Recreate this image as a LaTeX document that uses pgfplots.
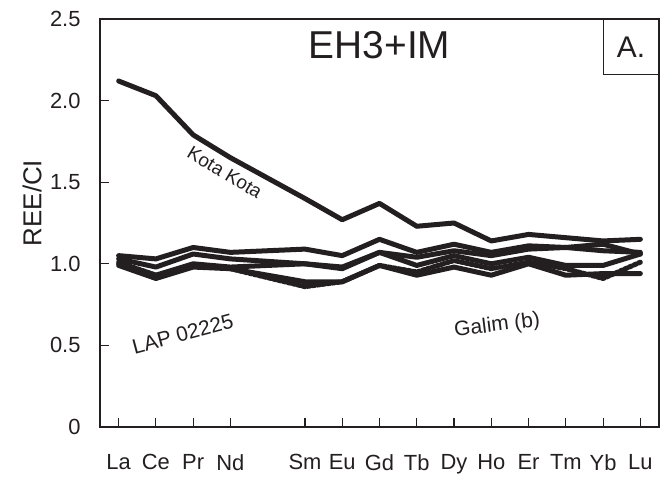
\documentclass[border=0pt]{standalone}
\usepackage{pgfplots}
\pgfplotsset{compat=1.18}
\usepackage{fontspec}
\setmainfont{Liberation Sans}
\definecolor{ink}{HTML}{231F20}

\begin{document}
\begin{tikzpicture}
  \begin{axis}[
    scale only axis,
    width=559bp, height=408bp,
    xmin=-0.5, xmax=14.5,
    ymin=0, ymax=2.5,
    xtick={0,1,2,3,5,6,7,8,9,10,11,12,13,14},
    xticklabels={La,Ce,Pr,Nd,Sm,Eu,Gd,Tb,Dy,Ho,Er,Tm,Yb,Lu},
    ytick={0,0.5,1,1.5,2,2.5},
    yticklabels={0,0.5,1.0,1.5,2.0,2.5},
    xtick pos=bottom, ytick pos=left,
    tick align=inside,
    major tick length=9bp,
    axis line style={ink, line width=1.2bp},
    every tick/.style={ink, line width=1.2bp},
    tick label style={font=\fontsize{22}{25}\selectfont, text=ink},
    /pgf/number format/assume math mode=true,
    xticklabel style={yshift=-24bp},
    yticklabel style={xshift=-16bp},
    ylabel={REE/CI},
    ylabel style={font=\fontsize{26}{29}\selectfont, text=ink,
      at={(axis description cs:0,0.5)}, anchor=center, yshift=68bp, xshift=20bp},
    every axis plot post/.append style={ink, line width=5bp, line join=round, line cap=round, mark=none},
  ]
    % Kota Kota
    \addplot coordinates {(0,2.12)(1,2.03)(2,1.79)(3,1.65)(5,1.40)(6,1.27)(7,1.37)(8,1.23)(9,1.25)(10,1.14)(11,1.18)(12,1.16)(13,1.14)(14,1.15)};
    \addplot coordinates {(0,1.05)(1,1.03)(2,1.10)(3,1.07)(5,1.09)(6,1.05)(7,1.15)(8,1.07)(9,1.12)(10,1.07)(11,1.11)(12,1.10)(13,1.12)(14,1.06)};
    \addplot coordinates {(0,1.03)(1,0.98)(2,1.06)(3,1.03)(5,1.00)(6,0.97)(7,1.07)(8,1.04)(9,1.08)(10,1.05)(11,1.09)(12,1.10)(13,1.08)(14,1.07)};
    \addplot coordinates {(0,1.00)(1,0.93)(2,1.00)(3,0.98)(5,1.00)(6,0.98)(7,1.07)(8,0.99)(9,1.05)(10,1.00)(11,1.04)(12,0.99)(13,0.99)(14,1.06)};
    \addplot coordinates {(0,0.99)(1,0.91)(2,0.98)(3,0.97)(5,0.89)(6,0.89)(7,0.99)(8,0.93)(9,0.98)(10,0.93)(11,1.00)(12,0.93)(13,0.94)(14,0.94)};
    \addplot coordinates {(0,1.01)(1,0.93)(2,0.99)(3,0.97)(5,0.86)(6,0.89)(7,0.99)(8,0.95)(9,1.02)(10,0.97)(11,1.01)(12,0.97)(13,0.91)(14,1.01)};

    \node[text=ink, font=\fontsize{39}{42}\selectfont] at (axis cs:7,2.34) {EH3+IM};
    \node[draw=ink, line width=1bp, text=ink, anchor=north east, minimum width=55bp, minimum height=55bp,
      font=\fontsize{30}{32}\selectfont] at (rel axis cs:1,1) {A.};
    \node[text=ink, rotate=-31, font=\fontsize{19}{21}\selectfont] at (axis cs:2.85,1.56) {Kota Kota};
    \node[text=ink, rotate=15, font=\fontsize{21}{23}\selectfont] at (axis cs:1.72,0.57) {LAP 02225};
    \node[text=ink, rotate=7, font=\fontsize{21}{23}\selectfont] at (axis cs:10.16,0.62) {Galim (b)};
  \end{axis}
  \path ([xshift=-100bp,yshift=-52bp]current axis.south west) rectangle ([xshift=1bp,yshift=19bp]current axis.north east);
\end{tikzpicture}
\end{document}
